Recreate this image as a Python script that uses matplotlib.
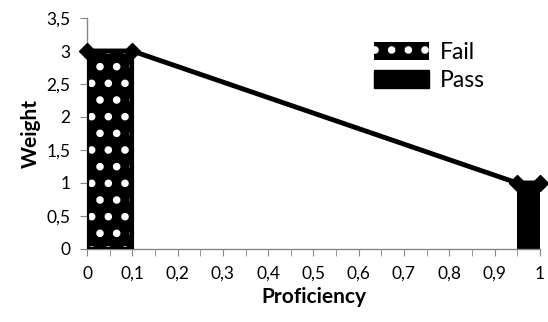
import matplotlib
matplotlib.use("Agg")
import matplotlib.pyplot as plt
from matplotlib.patches import Patch
import numpy as np

plt.rcParams['font.family'] = ['Lato', 'DejaVu Sans']
plt.rcParams['hatch.linewidth'] = 3.0

# Data
line_x = [0, 0.1, 0.95, 1]
line_y = [3, 3, 1, 1]
bar_labels = ["Fail", "Pass"]
bar_left = [0, 0.95]
bar_right = [0.1, 1]
bar_height = [3, 1]
x_ticks = [0, 0.1, 0.2, 0.3, 0.4, 0.5, 0.6, 0.7, 0.8, 0.9, 1]
y_ticks = [0, 0.5, 1, 1.5, 2, 2.5, 3, 3.5]

fig = plt.figure(figsize=(5.48, 3.22), dpi=100)
ax = fig.add_axes([0.159, 0.227, 0.826, 0.717])

# Fail bar: black with white blobs
w0 = bar_right[0] - bar_left[0]
ax.bar(bar_left[0], bar_height[0], width=w0, align='edge', facecolor='black',
       edgecolor='white', hatch='.', linewidth=0, zorder=2)
ax.bar(bar_left[0], bar_height[0], width=w0, align='edge', fill=False,
       edgecolor='black', linewidth=3, zorder=3)
# Pass bar
w1 = bar_right[1] - bar_left[1]
ax.bar(bar_left[1], bar_height[1], width=w1, align='edge', facecolor='black',
       edgecolor='black', linewidth=0, zorder=2)

ax.plot(line_x, line_y, color='black', linewidth=3.5, marker='D', markersize=8,
        zorder=4, clip_on=False)

ax.set_xlim(0, 1)
ax.set_ylim(0, 3.5)
ax.set_xticks(x_ticks)
ax.set_xticks(np.arange(0, 1.0001, 0.05), minor=True)
ax.set_xticklabels([("%g" % t).replace('.', ',') for t in x_ticks])
ax.set_yticks(y_ticks)
ax.set_yticklabels([("%g" % t).replace('.', ',') for t in y_ticks])

for s in ['top', 'right']:
    ax.spines[s].set_visible(False)
for s in ['left', 'bottom']:
    ax.spines[s].set_color('#878787')
    ax.spines[s].set_linewidth(1)
ax.tick_params(axis='both', which='both', direction='out', length=5,
               color='#878787', labelsize=12.5, pad=7)
ax.tick_params(axis='x', which='minor', labelbottom=False)

ax.set_xlabel("Proficiency", fontsize=15, fontweight='bold', labelpad=4)
ax.set_ylabel("Weight", fontsize=15, fontweight='bold', labelpad=4)

handles = [Patch(facecolor='black', edgecolor='white', hatch='.', linewidth=0),
           Patch(facecolor='black', edgecolor='black')]
leg = ax.legend(handles, bar_labels, loc='upper right', bbox_to_anchor=(0.925, 0.985),
                frameon=False, fontsize=16.5, handlelength=2.4, handleheight=0.8,
                labelspacing=0.3, handletextpad=0.5)

fig.savefig("out.png", dpi=100)
